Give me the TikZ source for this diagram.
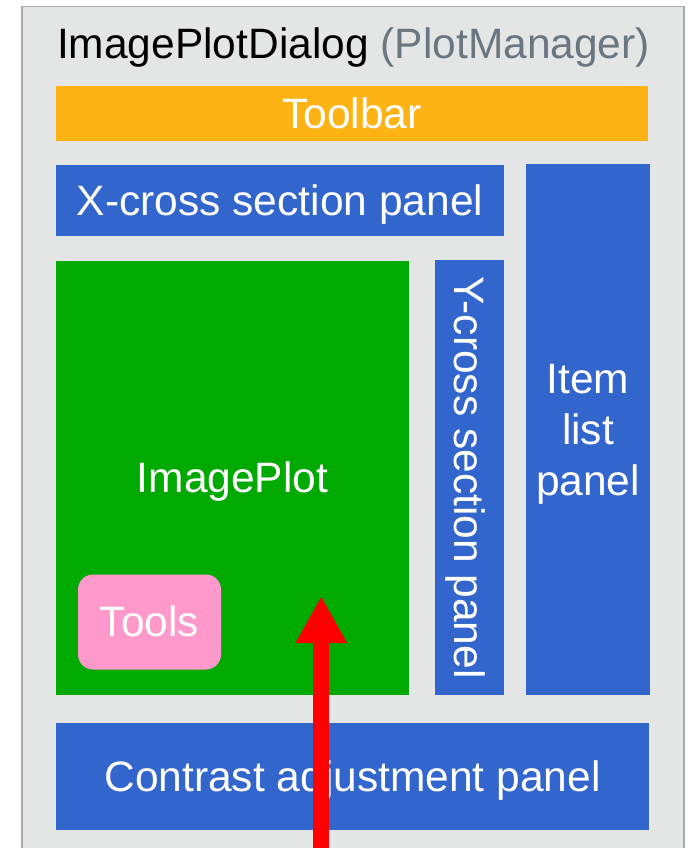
\documentclass[tikz,border=0pt]{standalone}
\usepackage{fontspec}
\setmainfont{Liberation Sans}
\usetikzlibrary{arrows.meta}
\definecolor{bgdialog}{HTML}{E4E6E6}
\definecolor{bddialog}{HTML}{A8AAAA}
\definecolor{panelblue}{HTML}{3366CC}
\definecolor{plotgreen}{HTML}{00AA00}
\definecolor{toolorange}{HTML}{FDB314}
\definecolor{toolpink}{HTML}{FF99CC}
\definecolor{titlegray}{HTML}{6B7780}
\definecolor{arrowred}{HTML}{FF0000}
\tikzset{
  bigtext/.style={font=\fontsize{42.5}{51}\selectfont},
  panelbox/.style={bigtext, draw=none, inner sep=0pt, text=white,
    text height=29.5pt, text depth=0pt},
  bluebox/.style={panelbox, fill=panelblue},
  redarrow/.style={draw=arrowred, line width=16pt,
    -{Triangle[length=47pt,width=48pt]}, arrowred}
}
\begin{document}
\begin{tikzpicture}[x=1pt,y=-1pt]
\useasboundingbox (0,0) rectangle (689,848);
\clip (0,0) rectangle (689,848);
% dialog frame
\node[draw=bddialog, line width=1.5pt, fill=bgdialog, inner sep=0pt,
  minimum width=662pt, minimum height=880pt, anchor=north west] (dialog) at (21,6) {};
\node[bigtext, anchor=base, inner sep=0pt] (title) at (353.5,58.5)
  {ImagePlotDialog \textcolor{titlegray}{(PlotManager)}};
% toolbar
\node[panelbox, fill=toolorange, minimum width=592pt, minimum height=55pt]
  (toolbar) at (352,113.5) {Toolbar};
% x-cross section
\node[bluebox, minimum width=448pt, minimum height=71pt]
  (xcross) at (280,200.5) {X-cross section panel};
% item list
\node[bluebox, minimum width=124pt, minimum height=531pt, align=center,
  text height=, text depth=0pt]
  (itemlist) at (588,429.5) {Item\\list\\panel};
% image plot
\node[panelbox, fill=plotgreen, minimum width=353pt, minimum height=434pt]
  (imageplot) at (232.5,478) {ImagePlot};
% y-cross section
\node[bluebox, rotate=-90, minimum width=435pt, minimum height=69pt]
  (ycross) at (469.5,477.5) {Y-cross section panel};
% tools
\node[panelbox, fill=toolpink, rounded corners=15pt, minimum width=143pt, minimum height=95pt]
  (tools) at (149.5,622) {Tools};
% contrast
\node[bluebox, minimum width=593pt, minimum height=107pt]
  (contrast) at (352.5,776.5) {Contrast adjustment panel};
% red arrow
\coordinate (arrowstart) at (321.3,870);
\coordinate (arrowtip) at (321.3,596);
\draw[redarrow] (arrowstart) -- (arrowtip);
\end{tikzpicture}
\end{document}
